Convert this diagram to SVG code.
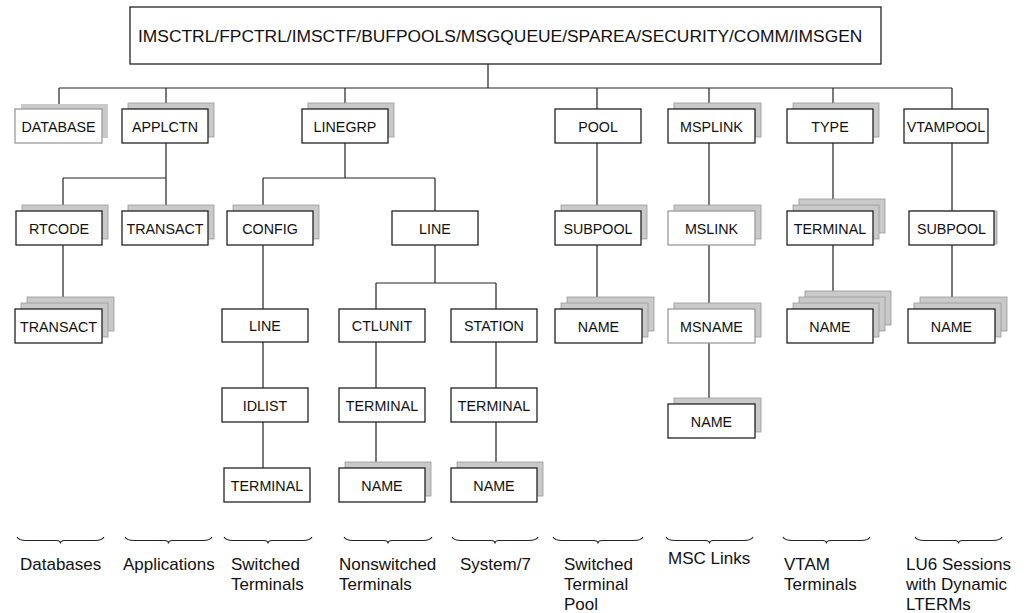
<svg xmlns="http://www.w3.org/2000/svg" width="1028" height="613" viewBox="0 0 1028 613">
<style>
.bg{fill:#ffffff}
.box{fill:#ffffff;stroke:#222222;stroke-width:1.3}
.lbox{fill:#ffffff;stroke:#9a9a9a;stroke-width:1.3}
.sh{fill:#c9c9c9;stroke:#9a9a9a;stroke-width:0.8}
.ln{stroke:#222222;stroke-width:1.2;fill:none}
.br{stroke:#222222;stroke-width:1.2;fill:none}
.t{font-family:"Liberation Sans",Arial,sans-serif;font-size:14.3px;fill:#111;text-anchor:middle}
.top{font-family:"Liberation Sans",Arial,sans-serif;font-size:17.4px;fill:#111}
.lab{font-family:"Liberation Sans",Arial,sans-serif;font-size:17px;fill:#111}
</style>
<rect class="bg" x="0" y="0" width="1028" height="613"/>
<g id="connectors">
<path class="ln" d="M488 64V88M59 88H952M59 88V109M166 88V109M345 88V109M597 88V109M709 88V109M833 88V109M952 88V109"/>
<path class="ln" d="M166 143V178M63 178H166M63 178V211M166 178V211M63 245V309"/>
<path class="ln" d="M345 143V178M263 178H435M263 178V211M435 178V211"/>
<path class="ln" d="M263 245V309M263 342V388M263 422V468"/>
<path class="ln" d="M435 245V283M376 283H496M376 283V309M496 283V309M376 342V388M376 422V468M496 342V388M496 422V468"/>
<path class="ln" d="M597 143V211M597 245V309"/>
<path class="ln" d="M709 143V211M709 245V309M709 343V404"/>
<path class="ln" d="M833 143V211M833 245V309"/>
<path class="ln" d="M952 143V211M952 245V309"/>
</g>
<g id="root"><rect class="box" x="130" y="7" width="751" height="57"/><text class="top" x="138" y="42">IMSCTRL/FPCTRL/IMSCTF/BUFPOOLS/MSGQUEUE/SPAREA/SECURITY/COMM/IMSGEN</text></g>
<g id="database"><rect class="sh" x="21" y="104" width="87" height="34" style="stroke:none"/><rect class="lbox" x="15" y="109" width="87" height="34"/><text class="t" x="58.5" y="131.5">DATABASE</text></g>
<g id="applctn"><rect class="sh" x="128" y="103" width="86" height="34"/><rect class="box" x="122" y="109" width="86" height="34"/><text class="t" x="165" y="131.5">APPLCTN</text></g>
<g id="linegrp"><rect class="sh" x="308" y="103" width="86" height="34"/><rect class="box" x="302" y="109" width="86" height="34"/><text class="t" x="345" y="131.5">LINEGRP</text></g>
<g id="pool"><rect class="box" x="555" y="109" width="86" height="34"/><text class="t" x="598" y="131.5">POOL</text></g>
<g id="msplink"><rect class="sh" x="674" y="103" width="87" height="34"/><rect class="box" x="668" y="109" width="87" height="34"/><text class="t" x="711.5" y="131.5">MSPLINK</text></g>
<g id="type"><rect class="sh" x="793" y="103" width="86" height="34"/><rect class="box" x="787" y="109" width="86" height="34"/><text class="t" x="830" y="131.5">TYPE</text></g>
<g id="vtampool"><rect class="box" x="904" y="109" width="84" height="34"/><text class="t" x="946" y="131.5">VTAMPOOL</text></g>
<g id="rtcode"><rect class="sh" x="22" y="205" width="86" height="34"/><rect class="box" x="16" y="211" width="86" height="34"/><text class="t" x="59" y="233.5">RTCODE</text></g>
<g id="transact1"><rect class="sh" x="128" y="205" width="86" height="34"/><rect class="box" x="122" y="211" width="86" height="34"/><text class="t" x="165" y="233.5">TRANSACT</text></g>
<g id="config"><rect class="sh" x="233" y="205" width="86" height="34"/><rect class="box" x="227" y="211" width="86" height="34"/><text class="t" x="270" y="233.5">CONFIG</text></g>
<g id="line1"><rect class="box" x="392" y="211" width="86" height="34"/><text class="t" x="435" y="233.5">LINE</text></g>
<g id="subpool1"><rect class="sh" x="561" y="205" width="86" height="34"/><rect class="box" x="555" y="211" width="86" height="34"/><text class="t" x="598" y="233.5">SUBPOOL</text></g>
<g id="mslink"><rect class="sh" x="674" y="205" width="87" height="34"/><rect class="lbox" x="668" y="211" width="87" height="34"/><text class="t" x="711.5" y="233.5">MSLINK</text></g>
<g id="terminal-type"><rect class="sh" x="799" y="199" width="86" height="34"/><rect class="sh" x="793" y="205" width="86" height="34"/><rect class="box" x="787" y="211" width="86" height="34"/><text class="t" x="830" y="233.5">TERMINAL</text></g>
<g id="subpool2"><rect class="sh" x="912" y="211" width="85" height="33"/><rect class="box" x="909" y="211" width="85" height="34"/><text class="t" x="951.5" y="233.5">SUBPOOL</text></g>
<g id="transact2"><rect class="sh" x="27" y="297" width="87" height="34"/><rect class="sh" x="21" y="303" width="87" height="34"/><rect class="box" x="15" y="309" width="87" height="34"/><text class="t" x="58.5" y="331.5">TRANSACT</text></g>
<g id="line2"><rect class="box" x="222" y="309" width="86" height="33"/><text class="t" x="265" y="331">LINE</text></g>
<g id="ctlunit"><rect class="box" x="339" y="309" width="86" height="33"/><text class="t" x="382" y="331">CTLUNIT</text></g>
<g id="station"><rect class="box" x="451" y="309" width="86" height="33"/><text class="t" x="494" y="331">STATION</text></g>
<g id="name-pool"><rect class="sh" x="567" y="297" width="87" height="34"/><rect class="sh" x="561" y="303" width="87" height="34"/><rect class="box" x="555" y="309" width="87" height="34"/><text class="t" x="598.5" y="331.5">NAME</text></g>
<g id="msname"><rect class="sh" x="674" y="303" width="87" height="34"/><rect class="lbox" x="668" y="309" width="87" height="34"/><text class="t" x="711.5" y="331.5">MSNAME</text></g>
<g id="name-type"><rect class="sh" x="805" y="291" width="86" height="34"/><rect class="sh" x="799" y="297" width="86" height="34"/><rect class="sh" x="793" y="303" width="86" height="34"/><rect class="box" x="787" y="309" width="86" height="34"/><text class="t" x="830" y="331.5">NAME</text></g>
<g id="name-vtam"><rect class="sh" x="920" y="297" width="87" height="34"/><rect class="sh" x="914" y="303" width="87" height="34"/><rect class="box" x="908" y="309" width="87" height="34"/><text class="t" x="951.5" y="331.5">NAME</text></g>
<g id="idlist"><rect class="box" x="222" y="388" width="86" height="34"/><text class="t" x="265" y="410.5">IDLIST</text></g>
<g id="terminal-ctl"><rect class="box" x="339" y="388" width="86" height="34"/><text class="t" x="382" y="410.5">TERMINAL</text></g>
<g id="terminal-sta"><rect class="box" x="451" y="388" width="86" height="34"/><text class="t" x="494" y="410.5">TERMINAL</text></g>
<g id="name-ms"><rect class="sh" x="674" y="398" width="87" height="34"/><rect class="box" x="668" y="404" width="87" height="34"/><text class="t" x="711.5" y="426.5">NAME</text></g>
<g id="terminal-sw"><rect class="box" x="224" y="468" width="86" height="34"/><text class="t" x="267" y="490.5">TERMINAL</text></g>
<g id="name-ctl"><rect class="sh" x="345" y="462" width="86" height="34"/><rect class="box" x="339" y="468" width="86" height="34"/><text class="t" x="382" y="490.5">NAME</text></g>
<g id="name-sta"><rect class="sh" x="457" y="462" width="86" height="34"/><rect class="box" x="451" y="468" width="86" height="34"/><text class="t" x="494" y="490.5">NAME</text></g>
<g id="braces">
<path class="br" d="M17 537Q19 540.5 26 540.5H56.5Q60.5 540.5 60.5 543.5Q60.5 540.5 64.5 540.5H95Q102 540.5 104 537"/>
<path class="br" d="M125 537Q127 540.5 134 540.5H164.5Q168.5 540.5 168.5 543.5Q168.5 540.5 172.5 540.5H203Q210 540.5 212 537"/>
<path class="br" d="M224 537Q226 540.5 233 540.5H264Q268 540.5 268 543.5Q268 540.5 272 540.5H303Q310 540.5 312 537"/>
<path class="br" d="M344 537Q346 540.5 353 540.5H384Q388 540.5 388 543.5Q388 540.5 392 540.5H423Q430 540.5 432 537"/>
<path class="br" d="M452 537Q454 540.5 461 540.5H491Q495 540.5 495 543.5Q495 540.5 499 540.5H529Q536 540.5 538 537"/>
<path class="br" d="M553 537Q555 540.5 562 540.5H594Q598 540.5 598 543.5Q598 540.5 602 540.5H634Q641 540.5 643 537"/>
<path class="br" d="M666 537Q668 540.5 675 540.5H705.5Q709.5 540.5 709.5 543.5Q709.5 540.5 713.5 540.5H744Q751 540.5 753 537"/>
<path class="br" d="M783 537Q785 540.5 792 540.5H822.5Q826.5 540.5 826.5 543.5Q826.5 540.5 830.5 540.5H861Q868 540.5 870 537"/>
<path class="br" d="M915 537Q917 540.5 924 540.5H954.5Q958.5 540.5 958.5 543.5Q958.5 540.5 962.5 540.5H993Q1000 540.5 1002 537"/>
</g>
<g id="labels">
<text class="lab" x="20" y="570">Databases</text>
<text class="lab" x="123" y="570">Applications</text>
<text class="lab" x="231" y="570">Switched</text><text class="lab" x="231" y="590">Terminals</text>
<text class="lab" x="339" y="570">Nonswitched</text><text class="lab" x="339" y="590">Terminals</text>
<text class="lab" x="460" y="570">System/7</text>
<text class="lab" x="564" y="570">Switched</text><text class="lab" x="564" y="590">Terminal</text><text class="lab" x="564" y="610">Pool</text>
<text class="lab" x="668" y="564">MSC Links</text>
<text class="lab" x="784" y="570">VTAM</text><text class="lab" x="784" y="590">Terminals</text>
<text class="lab" x="906" y="570">LU6 Sessions</text><text class="lab" x="906" y="590">with Dynamic</text><text class="lab" x="906" y="610">LTERMs</text>
</g>
</svg>
